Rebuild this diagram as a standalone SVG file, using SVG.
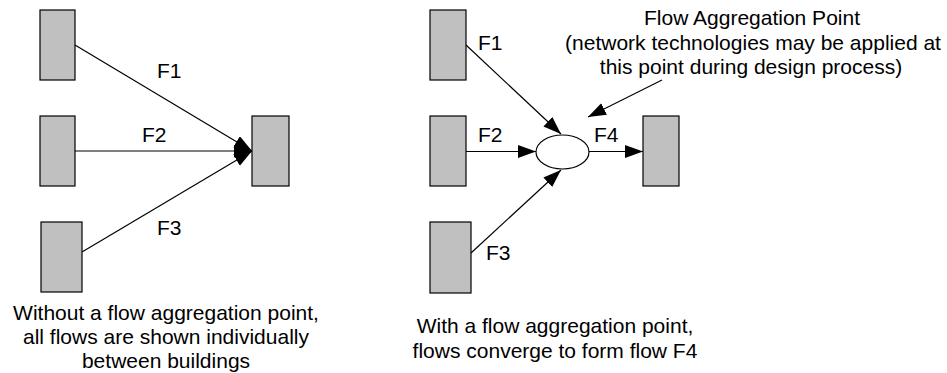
<svg xmlns="http://www.w3.org/2000/svg" width="947" height="373" viewBox="0 0 947 373">
<style>
.box{fill:#c0c0c0;stroke:#000;stroke-width:1.2}
.ln{stroke:#000;stroke-width:1.2;fill:none;marker-end:url(#ah)}
.t{font-family:"Liberation Sans",Arial,Helvetica,sans-serif;font-size:21px;fill:#000}
.c{text-anchor:middle}
</style>
<defs>
<marker id="ah" markerUnits="userSpaceOnUse" markerWidth="20" markerHeight="14" refX="18" refY="6.5" orient="auto">
<path d="M0,0 L18,6.5 L0,13 z" fill="#000"/>
</marker>
</defs>
<g id="connectors">
<line class="ln" x1="75" y1="45" x2="252" y2="151"/>
<line class="ln" x1="75" y1="151" x2="252" y2="151"/>
<line class="ln" x1="82" y1="252" x2="252" y2="151"/>
<line class="ln" x1="466" y1="45" x2="561" y2="134"/>
<line class="ln" x1="466" y1="151.5" x2="536" y2="151.5"/>
<line class="ln" x1="471" y1="253" x2="561" y2="170"/>
<line class="ln" x1="589" y1="151.5" x2="643" y2="151.5"/>
<line class="ln" x1="662" y1="80" x2="588" y2="117"/>
</g>
<g id="L1"><rect class="box" x="40" y="10" width="35" height="70"/></g>
<g id="L2"><rect class="box" x="40" y="116" width="35" height="70"/></g>
<g id="L3"><rect class="box" x="41" y="222" width="41" height="70"/></g>
<g id="LD"><rect class="box" x="252" y="116" width="37" height="70"/></g>
<g id="R1"><rect class="box" x="430" y="10" width="36" height="70"/></g>
<g id="R2"><rect class="box" x="430" y="116" width="36" height="70"/></g>
<g id="R3"><rect class="box" x="430" y="222" width="41" height="71"/></g>
<g id="RD"><rect class="box" x="643" y="116" width="36" height="70"/></g>
<g id="AP"><ellipse cx="562.5" cy="152" rx="26.5" ry="17" fill="#fff" stroke="#000" stroke-width="1.2"/></g>
<g id="labels">
<text class="t" x="157" y="78">F1</text>
<text class="t" x="142" y="142">F2</text>
<text class="t" x="157" y="235">F3</text>
<text class="t" x="478" y="50">F1</text>
<text class="t" x="478" y="142">F2</text>
<text class="t" x="486" y="260">F3</text>
<text class="t" x="594" y="142">F4</text>
</g>
<g id="captions">
<text class="t c" x="166" y="320">Without a flow aggregation point,</text>
<text class="t c" x="166" y="344">all flows are shown individually</text>
<text class="t c" x="166" y="368">between buildings</text>
<text class="t c" x="555" y="333">With a flow aggregation point,</text>
<text class="t c" x="555" y="358">flows converge to form flow F4</text>
<text class="t c" x="752" y="25">Flow Aggregation Point</text>
<text class="t c" x="753" y="50">(network technologies may be applied at</text>
<text class="t c" x="751" y="74">this point during design process)</text>
</g>
</svg>
